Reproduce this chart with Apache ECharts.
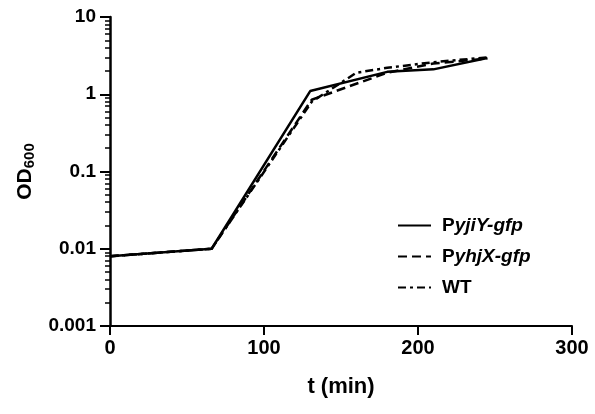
<!DOCTYPE html>
<html>
<head>
<meta charset="utf-8">
<script src="https://cdn.jsdelivr.net/npm/echarts@6/dist/echarts.min.js"></script>
<style>html,body{margin:0;padding:0;background:#fff}#c{width:595px;height:414px}</style>
</head>
<body>
<div id="c"></div>
<script>
// Data
var seriesNames = ['PyjiY-gfp', 'PyhjX-gfp', 'WT'];
var yjiY = [[0, 0.008], [66, 0.01], [130, 1.1], [180, 1.95], [210, 2.1], [245, 2.95]];
var yhjX = [[0, 0.008], [66, 0.01], [131, 0.85], [180, 1.9], [210, 2.5], [245, 2.9]];
var wt   = [[0, 0.008], [66, 0.01], [131, 0.8], [160, 1.9], [180, 2.2], [210, 2.6], [245, 3.0]];
var xMin = 0, xMax = 300;
var yMin = 0.001, yMax = 10;
var xTicks = [0, 100, 200, 300];
var yTickLabels = {'-3': '0.001', '-2': '0.01', '-1': '0.1', '0': '1', '1': '10'};
var majorDecades = [-3, -2, -1, 0, 1];
var minorMultipliers = [2, 3, 4, 5, 6, 7, 8, 9];
var decades = [-3, -2, -1, 0];

var minorTicks = [];
decades.forEach(function (d) {
  minorMultipliers.forEach(function (m) { minorTicks.push(d + Math.log10(m)); });
});
var xTickMarks = xTicks.map(function (t) { return 2 * (t - xMin) / (xMax - xMin) - 1; });

var font = 'Liberation Sans, Arial, sans-serif';
var chart = echarts.init(document.getElementById('c'));
chart.setOption({
  animation: false,
  backgroundColor: '#fff',
  grid: { left: 110, right: 23, top: 17, bottom: 88 },
  xAxis: [{
    type: 'value', min: xMin, max: xMax, interval: 100,
    name: 't (min)', nameLocation: 'middle', nameGap: 50,
    nameTextStyle: { fontFamily: font, fontWeight: 'bold', fontSize: 22, color: '#000' },
    axisLine: { show: true, onZero: false, lineStyle: { color: '#000', width: 2 } },
    axisTick: { show: false },
    axisLabel: { fontFamily: font, fontWeight: 'bold', fontSize: 20, color: '#000', margin: 12 },
    splitLine: { show: false }
  }, {
    type: 'value', min: -1, max: 1, position: 'bottom', offset: 0,
    axisLine: { show: false, onZero: false },
    axisTick: { show: true, inside: false, length: 9, customValues: xTickMarks, lineStyle: { color: '#000', width: 2 } },
    axisLabel: { show: false },
    splitLine: { show: false }
  }],
  yAxis: [{
    type: 'log', logBase: 10, min: yMin, max: yMax,
    name: '{a|OD}{s|600}', nameLocation: 'middle', nameGap: 72, nameRotate: 90,
    nameTextStyle: {
      color: '#000',
      rich: {
        a: { fontFamily: font, fontWeight: 'bold', fontSize: 21, color: '#000' },
        s: { fontFamily: font, fontWeight: 'bold', fontSize: 15, color: '#000', verticalAlign: 'bottom', padding: [9, 0, 0, 0] }
      }
    },
    axisLine: { show: true, onZero: false, lineStyle: { color: '#000', width: 2.5 } },
    axisTick: { show: false },
    axisLabel: {
      fontFamily: font, fontWeight: 'bold', fontSize: 19, color: '#000', margin: 14,
      formatter: function (v) {
        var k = Math.round(Math.log10(v));
        return yTickLabels[String(k)] || '';
      }
    },
    splitLine: { show: false }
  }, {
    type: 'value', min: -3, max: 1, position: 'left', offset: 0,
    axisLine: { show: false, onZero: false },
    axisTick: { show: true, inside: false, length: 5, customValues: minorTicks, lineStyle: { color: '#000', width: 1.5 } },
    axisLabel: { show: false },
    splitLine: { show: false }
  }, {
    type: 'value', min: -3, max: 1, position: 'left', offset: 0,
    axisLine: { show: false, onZero: false },
    axisTick: { show: true, inside: false, length: 10, customValues: majorDecades, lineStyle: { color: '#000', width: 2 } },
    axisLabel: { show: false },
    splitLine: { show: false }
  }],
  legend: {
    orient: 'vertical', left: 392, top: 211,
    itemWidth: 33, itemHeight: 20, itemGap: 12,
    data: seriesNames,
    itemStyle: { opacity: 0 },
    textStyle: {
      fontFamily: font, fontWeight: 'bold', fontSize: 19, color: '#000', padding: [0, 0, 0, 6],
      rich: {
        n: { fontFamily: font, fontWeight: 'bold', fontSize: 19, color: '#000' },
        i: { fontFamily: font, fontWeight: 'bold', fontStyle: 'italic', fontSize: 19, color: '#000' }
      }
    },
    formatter: function (name) {
      if (name.charAt(0) === 'P') return '{n|P}{i|' + name.slice(1) + '}';
      return '{n|' + name + '}';
    }
  },
  series: [{
    name: seriesNames[0], type: 'line', data: yjiY, symbol: 'none',
    lineStyle: { color: '#000', width: 2.5, type: 'solid' }, itemStyle: { color: '#000' }
  }, {
    name: seriesNames[1], type: 'line', data: yhjX, symbol: 'none',
    lineStyle: { color: '#000', width: 2.5, type: [9, 5] }, itemStyle: { color: '#000' }
  }, {
    name: seriesNames[2], type: 'line', data: wt, symbol: 'none',
    lineStyle: { color: '#000', width: 2.5, type: [8, 4, 3, 4] }, itemStyle: { color: '#000' }
  }]
});

// x-axis tick marks, positioned through the chart's own scales
var yBase = chart.convertToPixel({ yAxisIndex: 1 }, -3);
var tickGraphics = [];
xTicks.forEach(function (t) {
  var px = chart.convertToPixel({ xAxisIndex: 0 }, t);
  if (isFinite(px) && isFinite(yBase)) {
    tickGraphics.push({
      type: 'line', silent: true, z: 10,
      shape: { x1: px, y1: yBase, x2: px, y2: yBase + 9 },
      style: { stroke: '#000', lineWidth: 2 }
    });
  }
});
if (tickGraphics.length) chart.setOption({ graphic: tickGraphics });
</script>
</body>
</html>
